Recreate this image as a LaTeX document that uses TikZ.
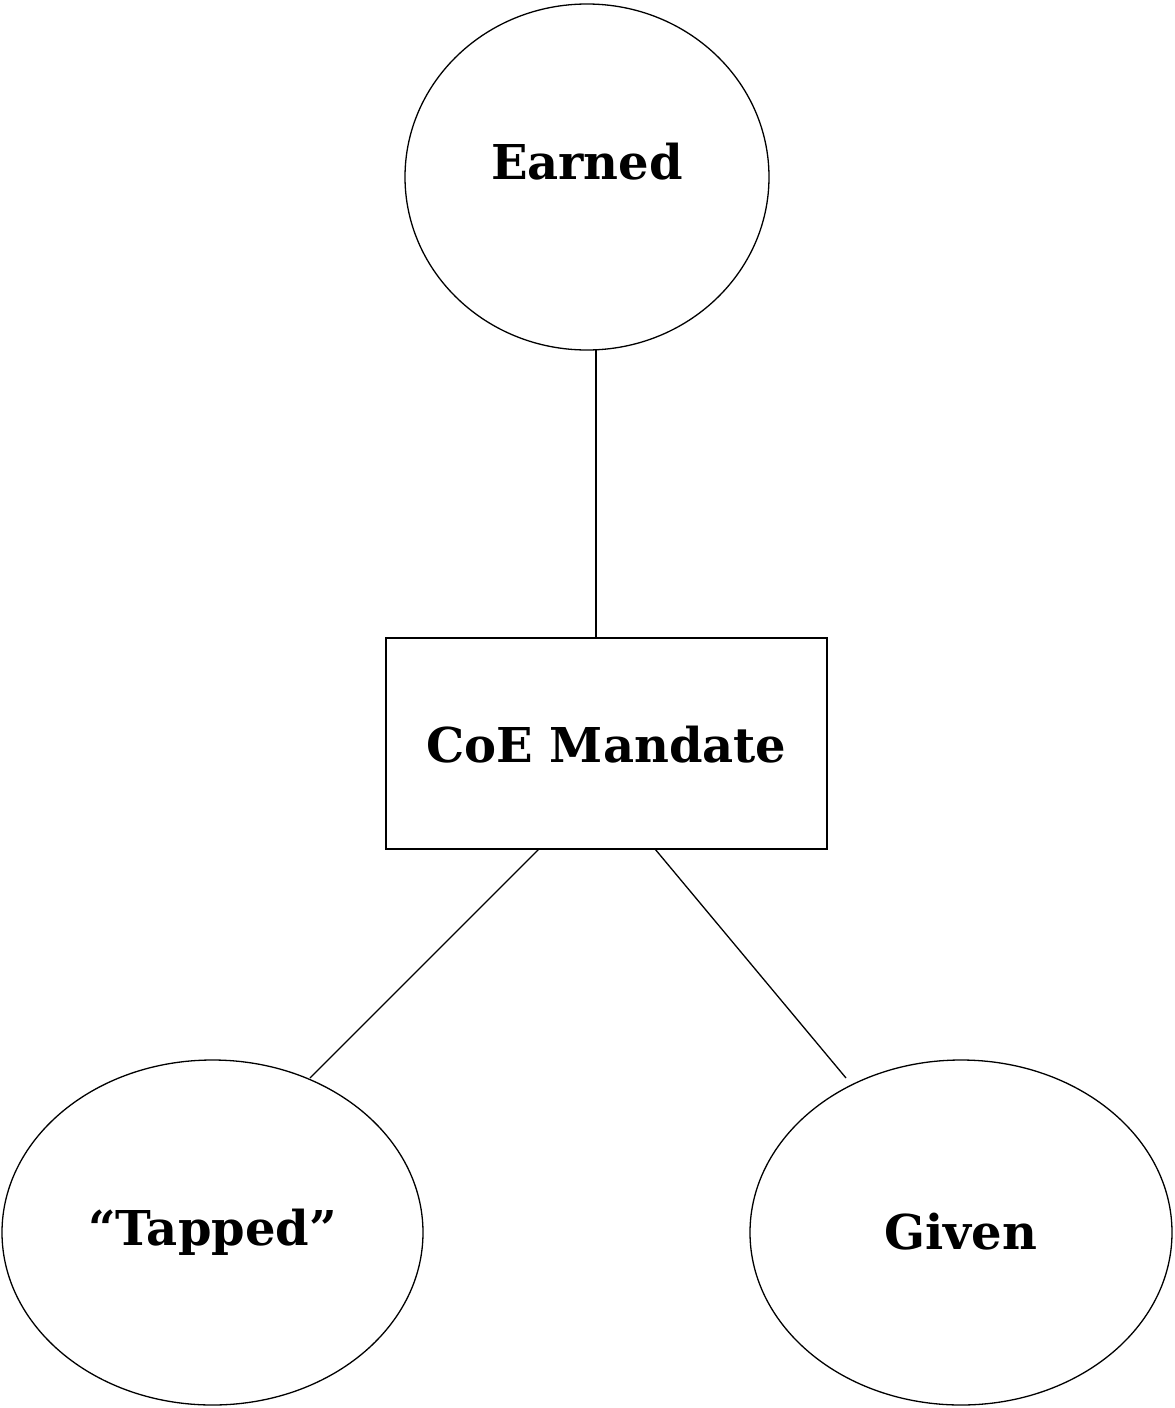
\documentclass[tikz,border=0pt]{standalone}
\usepackage{fontspec}
\setmainfont{DejaVu Serif}
\usetikzlibrary{shapes.geometric}
\begin{document}
\begin{tikzpicture}[x=1pt,y=-1pt,
  lbl/.style={font=\bfseries\fontsize{48}{54}\selectfont},
  oval/.style={draw,line width=1.3pt,ellipse,inner sep=0pt},
  conn/.style={line width=1.3pt}]
\useasboundingbox (0,0) rectangle (1175,1408);
\node[oval,minimum width=364pt,minimum height=346pt] (earned) at (587,177) {};
\node[lbl] (earnedt) at (587,162) {Earned};
\node[draw,line width=1.3pt,minimum width=441pt,minimum height=211pt,inner sep=0pt] (mandate) at (606.5,743.5) {};
\node[lbl] (mandatet) at (606.5,745) {CoE Mandate};
\node[oval,minimum width=421pt,minimum height=345pt] (tapped) at (212.5,1232.5) {};
\node[lbl] (tappedt) at (212.5,1232) {“Tapped”};
\node[oval,minimum width=422pt,minimum height=345pt] (given) at (961,1232.5) {};
\node[lbl] (givent) at (961,1232) {Given};
\coordinate (e1) at (596,350);
\coordinate (m1) at (596,638);
\coordinate (m2) at (539,849);
\coordinate (t1) at (310,1078);
\coordinate (m3) at (655,849);
\coordinate (g1) at (846,1078);
\draw[conn] (e1) -- (m1);
\draw[conn] (m2) -- (t1);
\draw[conn] (m3) -- (g1);
\end{tikzpicture}
\end{document}
